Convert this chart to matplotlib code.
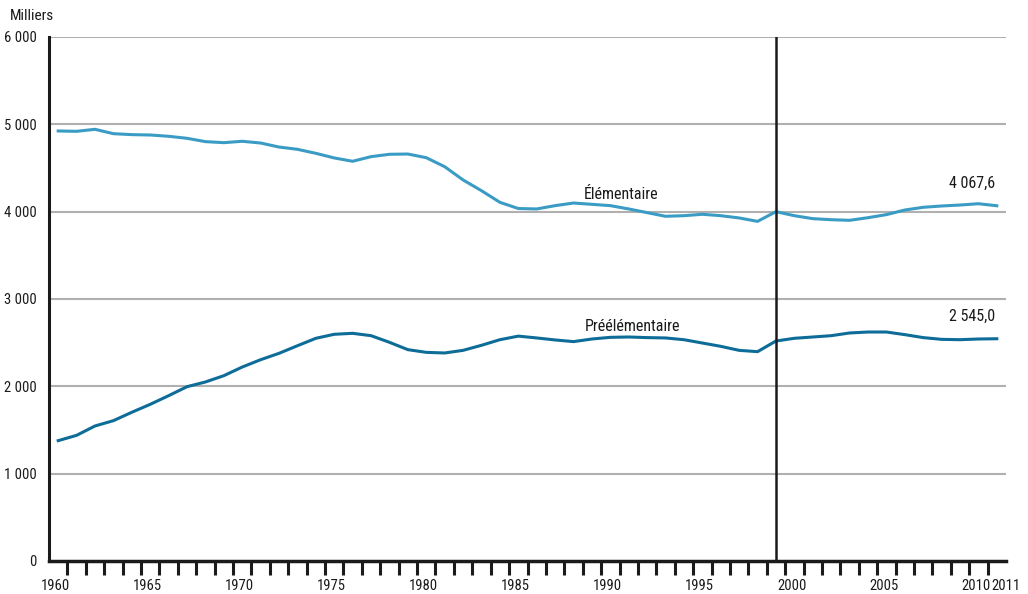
import matplotlib.pyplot as plt
from matplotlib.ticker import FixedLocator

plt.rcParams['font.family'] = ['Roboto Condensed', 'Archivo Narrow', 'DejaVu Sans']

YEARS = list(range(1960, 2012))

# effectifs en milliers
ELEMENTAIRE = [4924, 4920, 4943, 4893, 4882, 4878, 4863, 4840, 4802, 4790,
               4806, 4786, 4740, 4714, 4668, 4615, 4577, 4630, 4657, 4660,
               4618, 4515, 4363, 4240, 4107, 4036, 4031, 4069, 4099, 4084,
               4069, 4031, 3989, 3947, 3954, 3970, 3954, 3928, 3889, 4000,
               3954, 3920, 3908, 3901, 3931, 3966, 4019, 4050, 4065, 4076,
               4091, 4067.6]
PREELEMENTAIRE = [1378, 1439, 1546, 1607, 1703, 1794, 1893, 1996, 2050, 2122,
                  2221, 2305, 2378, 2465, 2550, 2596, 2607, 2580, 2504, 2420,
                  2389, 2382, 2412, 2470, 2534, 2575, 2554, 2531, 2512, 2542,
                  2561, 2565, 2558, 2554, 2534, 2496, 2458, 2412, 2397, 2519,
                  2550, 2565, 2580, 2611, 2622, 2622, 2592, 2558, 2538, 2534,
                  2542, 2545.0]

YTICKS = [0, 1000, 2000, 3000, 4000, 5000, 6000]
YLABELS = ["0", "1 000", "2 000", "3 000", "4 000", "5 000", "6 000"]
XLABEL_YEARS = [1960, 1965, 1970, 1975, 1980, 1985, 1990, 1995, 2000, 2005, 2010, 2011]
RUPTURE = 1999

C_ELEM = "#3a9cc4"
C_PRE = "#0d6c98"
C_TXT = "#1a1a1a"


def makePlot():
	fig = plt.figure(figsize=(10.28, 5.94), dpi=100)
	ax = fig.add_axes([49 / 1028, 1 - 561 / 594, (1006 - 49) / 1028, (561 - 37) / 594])

	for v in YTICKS[1:]:
		ax.axhline(v, color="#b0b0b0", lw=1.5, zorder=1)

	ax.plot(YEARS, ELEMENTAIRE, color=C_ELEM, lw=2.2, zorder=3)
	ax.plot(YEARS, PREELEMENTAIRE, color=C_PRE, lw=2.2, zorder=3)
	ax.axvline(RUPTURE, color=C_TXT, lw=1.8, zorder=4)

	for s in ["top", "right"]:
		ax.spines[s].set_visible(False)
	ax.spines["left"].set_linewidth(2.2)
	ax.spines["bottom"].set_linewidth(2.5)
	ax.spines["left"].set_color(C_TXT)
	ax.spines["bottom"].set_color(C_TXT)

	ax.set_yticks(YTICKS)
	ax.set_yticklabels(YLABELS, fontsize=10.5, color=C_TXT)
	ax.tick_params(axis="y", length=0, pad=9)

	# labels a bit left of the year centre, 2011 pushed to the end of the axis
	pos = [y - 0.15 if y != 2011 else 2011.5 for y in XLABEL_YEARS]
	ax.set_xticks(pos)
	ax.set_xticklabels([str(y) for y in XLABEL_YEARS], fontsize=10.5, color=C_TXT)
	ax.tick_params(axis="x", which="major", length=0, pad=13)
	ax.xaxis.set_minor_locator(FixedLocator([y + 0.5 for y in YEARS]))
	ax.tick_params(axis="x", which="minor", length=10, width=2.2, color=C_TXT, direction="out")

	# limits after the ticks, otherwise set_xticks widens them
	ax.set_xlim(1959.5, 2011.5)
	ax.set_ylim(0, 6000)

	ax.text(1990.6, 4110, "Élémentaire", fontsize=11.5, ha="center", va="bottom", color=C_TXT)
	ax.text(1991.2, 2600, "Préélémentaire", fontsize=11.5, ha="center", va="bottom", color=C_TXT)
	ax.text(2010.9, ELEMENTAIRE[-1] + 170, "4 067,6", fontsize=11.5, ha="right", va="bottom", color=C_TXT)
	ax.text(2010.9, PREELEMENTAIRE[-1] + 170, "2 545,0", fontsize=11.5, ha="right", va="bottom", color=C_TXT)

	fig.text(10 / 1028, 1 - 16 / 594, "Milliers", fontsize=11, va="center", ha="left", color=C_TXT)

	fig.savefig("out.png", dpi=100)


makePlot()
